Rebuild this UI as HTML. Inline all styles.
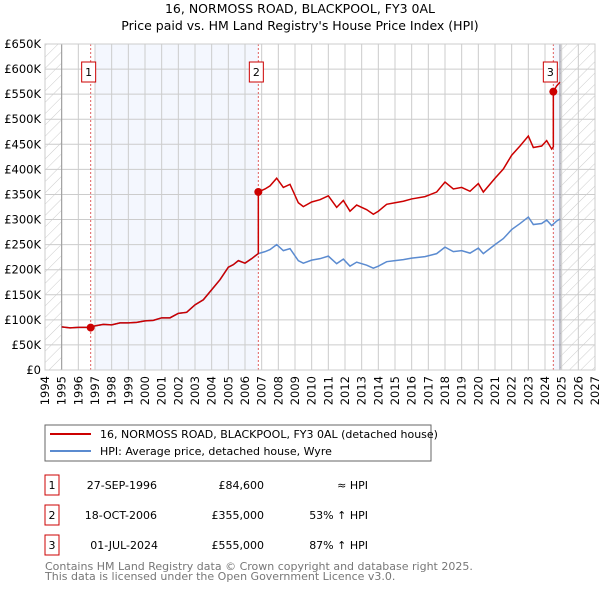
<!DOCTYPE html>
<html><head><meta charset="utf-8"><style>
body{margin:0;background:#fff;font-family:"DejaVu Sans","Liberation Sans",sans-serif;}
svg text{font-family:"DejaVu Sans","Liberation Sans",sans-serif;}
</style></head><body>
<svg id="c" width="600" height="590" xmlns="http://www.w3.org/2000/svg">
<defs><pattern id="hatch" width="8" height="8" patternUnits="userSpaceOnUse" patternTransform="rotate(45)"><line x1="0" y1="0" x2="0" y2="8" stroke="#ccc" stroke-width="1"/></pattern></defs>
<text x="300" y="13" text-anchor="middle" font-size="12.5">16, NORMOSS ROAD, BLACKPOOL, FY3 0AL</text>
<text x="300" y="30" text-anchor="middle" font-size="12.5">Price paid vs. HM Land Registry's House Price Index (HPI)</text>
<g id="plot"></g>
<rect x="45" y="425" width="386" height="36" fill="#fff" stroke="#666"/>
<line x1="50" y1="434" x2="91" y2="434" stroke="#cc0000" stroke-width="2"/>
<text x="100" y="438" font-size="11">16, NORMOSS ROAD, BLACKPOOL, FY3 0AL (detached house)</text>
<line x1="50" y1="451" x2="91" y2="451" stroke="#5b8bd0" stroke-width="2"/>
<text x="100" y="455" font-size="11">HPI: Average price, detached house, Wyre</text>
<g font-size="11">
<rect x="45" y="475" width="14" height="20" fill="#fff" stroke="#cc0000"/><text x="52" y="489" text-anchor="middle">1</text>
<text x="157" y="489" text-anchor="end">27-SEP-1996</text>
<text x="264" y="489" text-anchor="end">£84,600</text>
<text x="368" y="489" text-anchor="end">≈ HPI</text>
<rect x="45" y="505" width="14" height="20" fill="#fff" stroke="#cc0000"/><text x="52" y="519" text-anchor="middle">2</text>
<text x="157" y="519" text-anchor="end">18-OCT-2006</text>
<text x="264" y="519" text-anchor="end">£355,000</text>
<text x="368" y="519" text-anchor="end">53% ↑ HPI</text>
<rect x="45" y="535" width="14" height="20" fill="#fff" stroke="#cc0000"/><text x="52" y="549" text-anchor="middle">3</text>
<text x="158" y="549" text-anchor="end">01-JUL-2024</text>
<text x="264" y="549" text-anchor="end">£555,000</text>
<text x="368" y="549" text-anchor="end">87% ↑ HPI</text>
</g>
<text x="45" y="570" font-size="11" fill="#777">Contains HM Land Registry data © Crown copyright and database right 2025.</text>
<text x="45" y="580" font-size="11" fill="#777">This data is licensed under the Open Government Licence v3.0.</text>
</svg>
<script>
const hpiYears=[1995,1995.5,1996,1996.74,1997,1997.5,1998,1998.5,1999,1999.5,2000,2000.5,2001,2001.5,2002,2002.5,2003,2003.5,2004,2004.5,2005,2005.3,2005.6,2006,2006.4,2006.79,2007.2,2007.5,2007.9,2008.3,2008.7,2009.2,2009.5,2010,2010.5,2011,2011.5,2011.9,2012.3,2012.7,2013.3,2013.7,2014,2014.5,2015,2015.5,2016,2016.8,2017.5,2018,2018.5,2019,2019.5,2020,2020.3,2021,2021.5,2022,2022.5,2023,2023.3,2023.8,2024.1,2024.4,2024.7,2024.9];
const hpiValues=[86,84,85,85,88,91,90,94,94,95,98,99,104,104,113,115,130,140,160,180,205,210,218,213,222,232,236,240,250,238,242,218,213,219,222,227,212,221,207,215,209,203,207,216,218,220,223,226,232,245,236,238,233,243,232,250,262,280,292,305,290,292,299,288,297,301];
const saleYears=[1996.74,2006.8,2024.5];
const salePrices=[84.6,355,555];
const yTicks=[0,50,100,150,200,250,300,350,400,450,500,550,600,650];
const yTickLabels=["£0","£50K","£100K","£150K","£200K","£250K","£300K","£350K","£400K","£450K","£500K","£550K","£600K","£650K"];
const xTicks=[1994,1995,1996,1997,1998,1999,2000,2001,2002,2003,2004,2005,2006,2007,2008,2009,2010,2011,2012,2013,2014,2015,2016,2017,2018,2019,2020,2021,2022,2023,2024,2025,2026,2027];
const L=45,R=595,T=44,B=370;
const X=y=>L+(y-1994)/(2027-1994)*(R-L);
const Y=v=>B-v/650*(B-T);
const NS="http://www.w3.org/2000/svg";
const g=document.getElementById('plot');
function mk(tag,attrs,parent){const e=document.createElementNS(NS,tag);for(const k in attrs)e.setAttribute(k,attrs[k]);(parent||g).appendChild(e);return e;}
function hpiAt(y){for(let i=1;i<hpiYears.length;i++){if(y<=hpiYears[i]){const t=(y-hpiYears[i-1])/(hpiYears[i]-hpiYears[i-1]);return hpiValues[i-1]+t*(hpiValues[i]-hpiValues[i-1]);}}return hpiValues[hpiValues.length-1];}
let e;
e=mk('rect',{x:X(1997),y:T,width:X(saleYears[1])-X(1997),height:B-T,fill:'#f4f7fe'});


e=mk('rect',{x:X(saleYears[2]),y:T,width:X(2024.9)-X(saleYears[2]),height:B-T,fill:'#f4f7fe'});


e=mk('rect',{x:L,y:T,width:X(1995)-L,height:B-T,fill:'url(#hatch)'});


e=mk('rect',{x:X(2024.9),y:T,width:R-X(2024.9),height:B-T,fill:'url(#hatch)'});


yTicks.forEach((v,i)=>{
 e=mk('line',{x1:L,x2:R,y1:Y(v),y2:Y(v),stroke:'#ccc','stroke-width':1});
 
 
 e=mk('text',{x:41,y:Y(v)+4,'text-anchor':'end','font-size':'11.5'});e.textContent=yTickLabels[i];
 
 
});
xTicks.forEach(yr=>{
 e=mk('line',{x1:X(yr),x2:X(yr),y1:T,y2:B,stroke:'#ccc','stroke-width':1});
 
 
 e=mk('text',{x:0,y:0,'font-size':'11.5','text-anchor':'end',transform:`translate(${X(yr)+4},${B+6}) rotate(-90)`});e.textContent=yr;
 
 
});
e=mk('line',{x1:X(1995),x2:X(1995),y1:T,y2:B,stroke:'#999'});


e=mk('line',{x1:X(2024.9),x2:X(2024.9),y1:T,y2:B,stroke:'#889'});


saleYears.forEach((sy,i)=>{
 e=mk('line',{x1:X(sy),x2:X(sy),y1:T,y2:B,stroke:'#e06060','stroke-dasharray':'2,2'});
 
 
});
e=mk('polyline',{points:hpiYears.map((y,i)=>X(y)+','+Y(hpiValues[i])).join(' '),fill:'none',stroke:'#5b8bd0','stroke-width':1.5});


const pts=[];
for(let s=0;s<saleYears.length;s++){
 const start=s===0?hpiYears[0]:saleYears[s];
 const end=s+1<saleYears.length?saleYears[s+1]:hpiYears[hpiYears.length-1];
 const f=s===0?1:salePrices[s]/hpiAt(saleYears[s]);
 pts.push([start,hpiAt(start)*f]);
 hpiYears.forEach((y,i)=>{if(y>start&&y<end)pts.push([y,hpiValues[i]*f]);});
 pts.push([end,hpiAt(end)*f]);
}
e=mk('polyline',{points:pts.map(p=>X(p[0])+','+Y(p[1])).join(' '),fill:'none',stroke:'#cc0000','stroke-width':1.5});


saleYears.forEach((sy,i)=>{
 e=mk('circle',{cx:X(sy),cy:Y(salePrices[i]),r:4,fill:'#cc0000'});
 
 
 e=mk('rect',{x:X(sy)-7-(i===2?3:2),y:62,width:14,height:20,fill:'#fff',stroke:'#cc0000'});
 
 
 e=mk('text',{x:X(sy)-(i===2?3:2),y:76,'text-anchor':'middle','font-size':'11'});e.textContent=String(i+1);
 
 
});
e=mk('rect',{x:L,y:T,width:R-L,height:B-T,fill:'none',stroke:'#ccc'});


</script>
</body></html>
